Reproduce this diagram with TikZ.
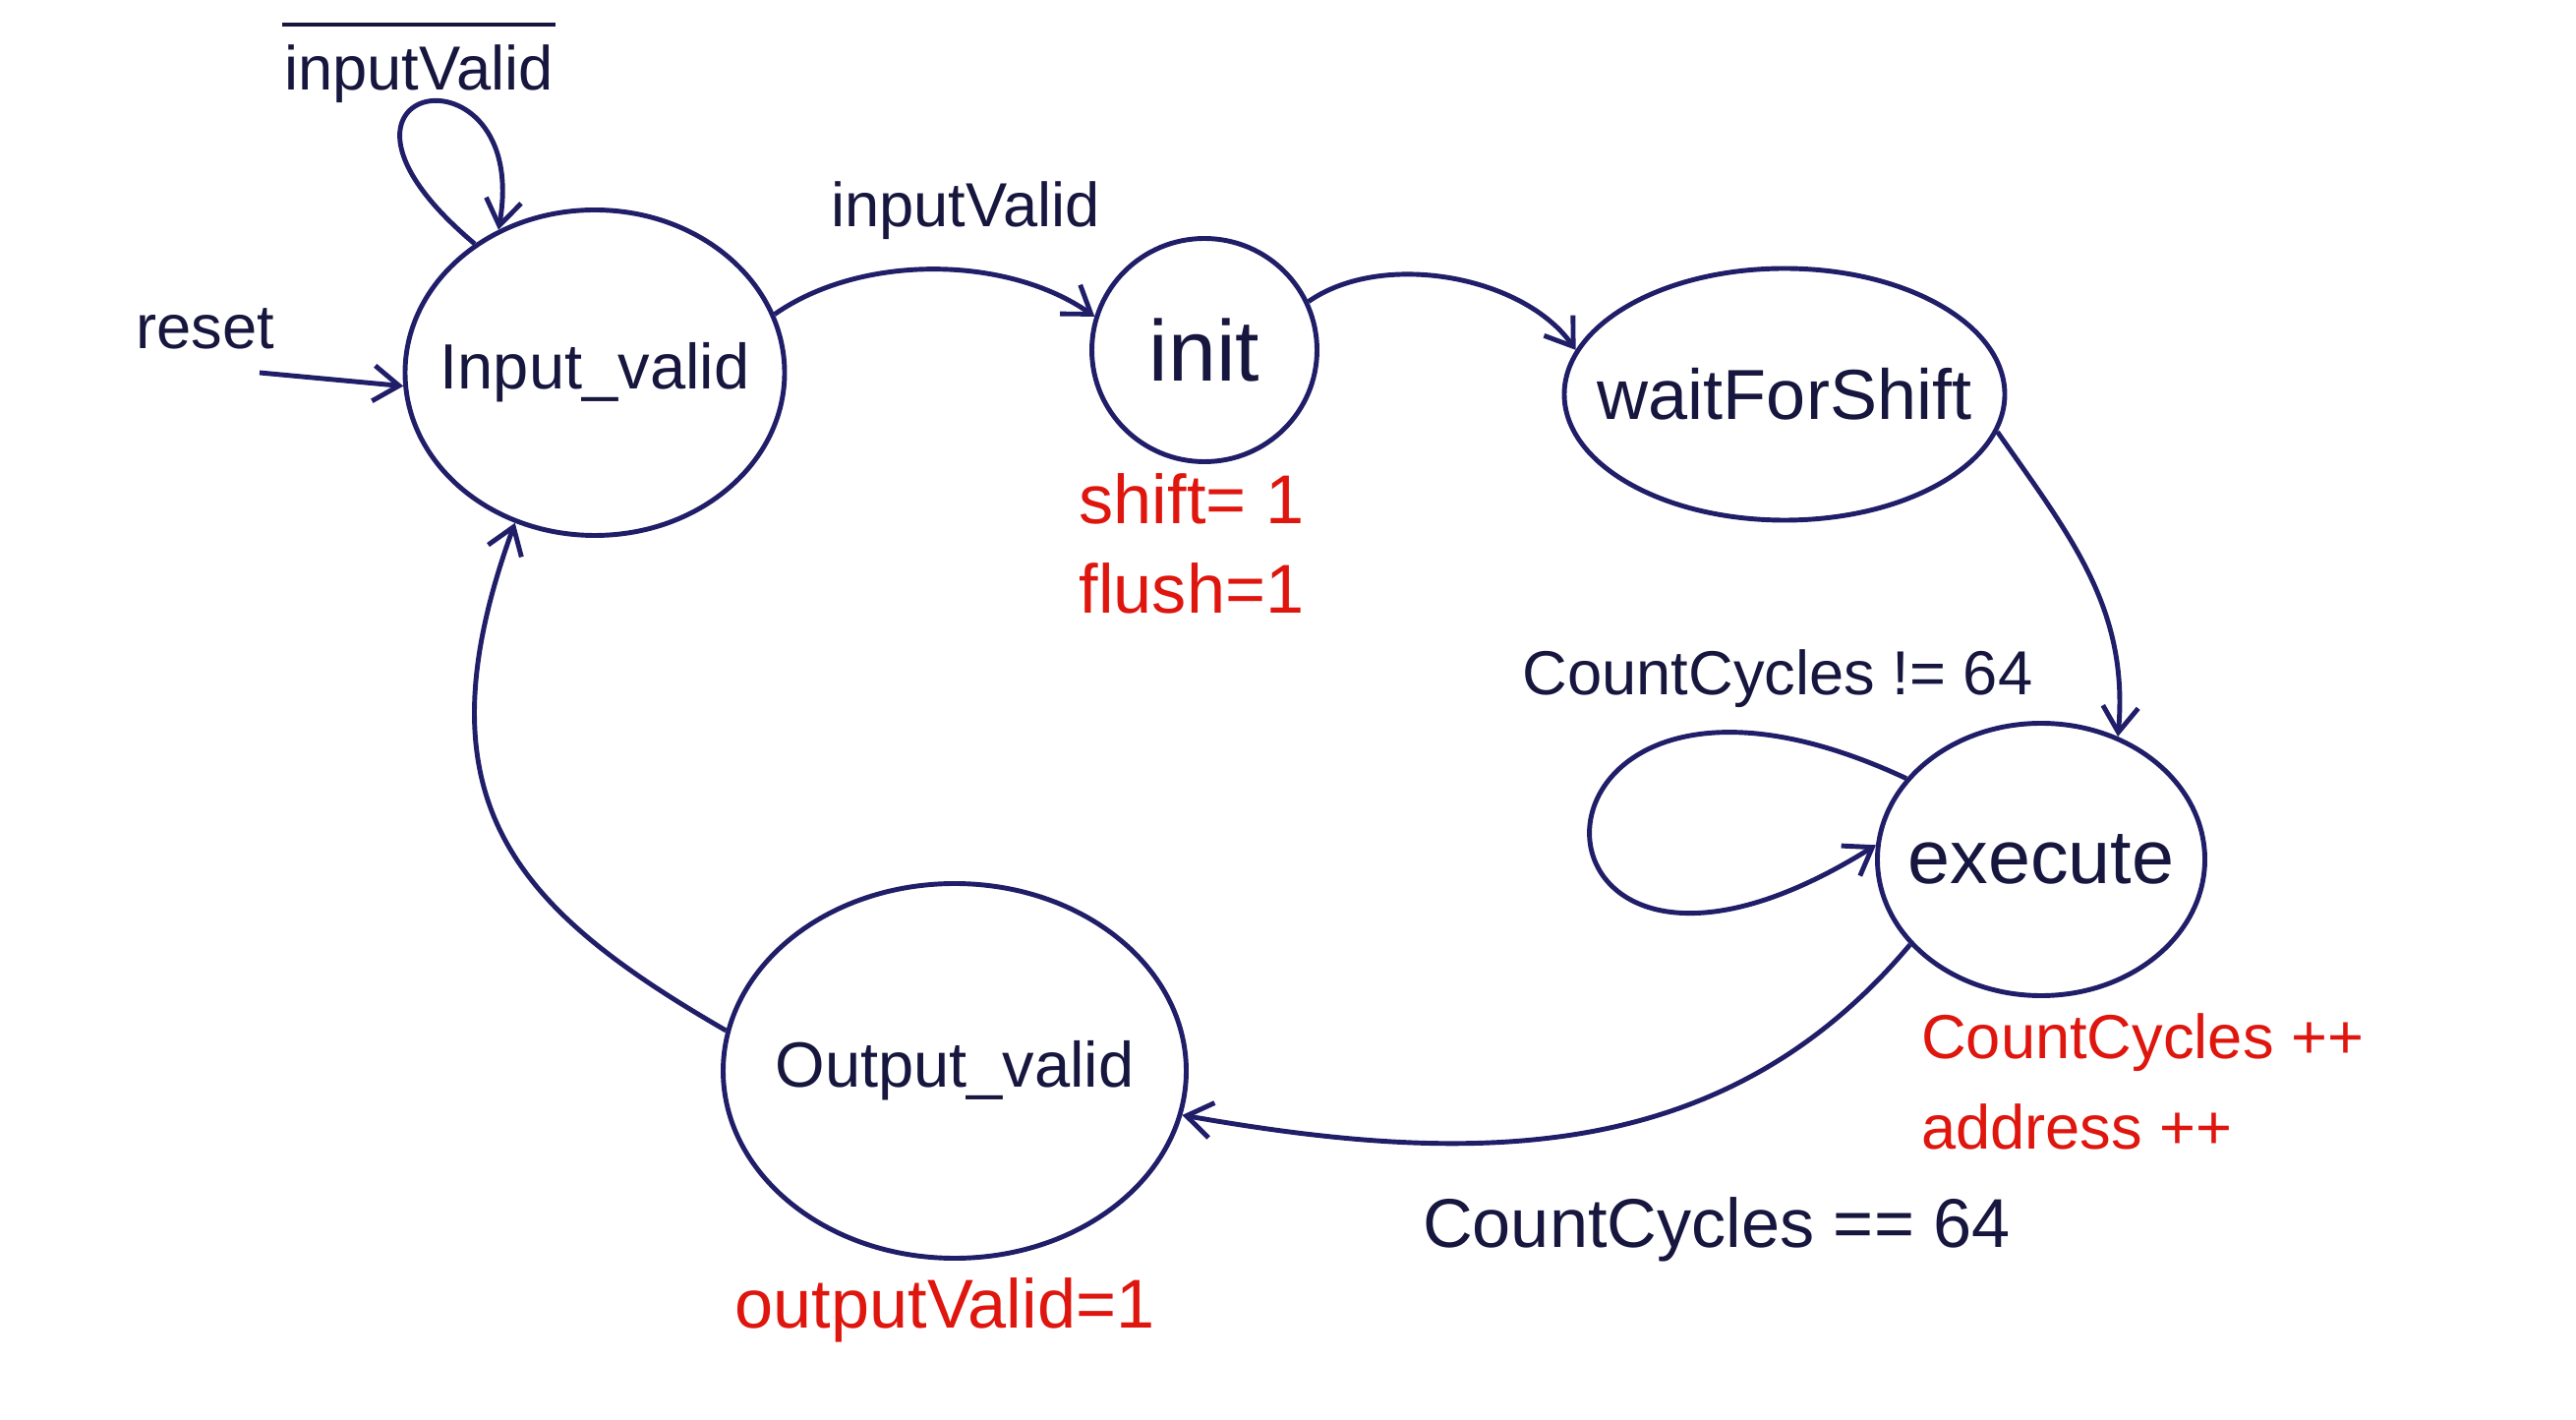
\documentclass[tikz,border=0pt]{standalone}
\usepackage{fontspec}
\setmainfont{Liberation Sans}
\usetikzlibrary{shapes.geometric,arrows.meta}

\begin{document}
\begin{tikzpicture}[line width=1.4pt, >={Straight Barb[length=2.6mm,width=3.6mm]},
		state/.style={ellipse, draw=ink, inner sep=0pt, text=txt, font=\fontsize{20}{24}\selectfont},
		trans/.style={->, draw=ink},
		lbl/.style={text=txt, font=\fontsize{18}{26}\selectfont},
		act/.style={text=red1, font=\fontsize{18}{26}\selectfont}]
		\definecolor{ink}{RGB}{32,30,104}
		\definecolor{txt}{RGB}{22,22,62}
		\definecolor{red1}{RGB}{222,22,14}
		\def\stname#1{\makebox[0pt]{#1}}
		\useasboundingbox (0,0) rectangle (26.2,-14.44);

		% states
		\node[state, minimum width=3.86cm, minimum height=3.31cm, font=\fontsize{18.5}{22}\selectfont] (inv) at (6.05,-3.79) {\stname{Input\_valid}};
		\node[state, minimum width=2.29cm, minimum height=2.27cm, font=\fontsize{25}{30}\selectfont] (init) at (12.25,-3.56) {\stname{init}};
		\node[state, minimum width=4.48cm, minimum height=2.56cm, font=\fontsize{20.5}{24}\selectfont] (wait) at (18.15,-4.01) {\stname{waitForShift}};
		\node[state, minimum width=3.33cm, minimum height=2.77cm, font=\fontsize{22}{26}\selectfont] (exec) at (20.76,-8.74) {\stname{execute}};
		\node[state, minimum width=4.71cm, minimum height=3.81cm, font=\fontsize{18.5}{22}\selectfont] (outv) at (9.71,-10.89) {\stname{Output\_valid}};

		% transitions
		\coordinate (rst) at (2.64,-3.79);
		\draw[trans] (rst) -- (inv.184);
		\draw[trans] (inv.133) .. controls +(140:2.6) and +(80:2) .. (inv.124);
		\draw[trans] (inv.18) to[out=35,in=145,looseness=0.85] (init.163);
		\draw[trans] (init.25) to[out=35,in=125,looseness=0.85] (wait.168);
		\draw[trans] (wait.-10) to[out=-55,in=85] (exec.58);
		\draw[trans] (exec.149) .. controls +(155:4.7) and +(212:4.6) .. (exec.175);
		\draw[trans] (exec.213) to[out=230,in=-10] (outv.-11);
		\draw[trans] (outv.170) .. controls +(150:2.5) and +(250:3) .. (inv.242);

		% guards
		\node[lbl, inner sep=0pt] (selflbl) at (4.26,-0.75) {inputValid};
		\draw[txt, line width=1.2pt] ([yshift=1.8mm]selflbl.north west) -- ([yshift=1.8mm]selflbl.north east);
		\node[lbl] (rstlbl) at (2.09,-3.34) {reset};
		\node[lbl] (golbl) at (9.82,-2.14) {inputValid};
		\node[lbl] (neqlbl) at (18.08,-6.90) {CountCycles != 64};
		\node[lbl, font=\fontsize{20}{26}\selectfont] (eqlbl) at (17.46,-12.50) {CountCycles == 64};

		% outputs
		\node[act, align=center, font=\fontsize{20}{26}\selectfont] (initact) at (12.12,-5.53) {shift= 1\\flush=1};
		\node[act, align=left, anchor=west] (execact) at (19.40,-11.0) {CountCycles ++\\address ++};
		\node[act, font=\fontsize{20}{26}\selectfont] (outact) at (9.61,-13.32) {outputValid=1};
	\end{tikzpicture}
\end{document}
